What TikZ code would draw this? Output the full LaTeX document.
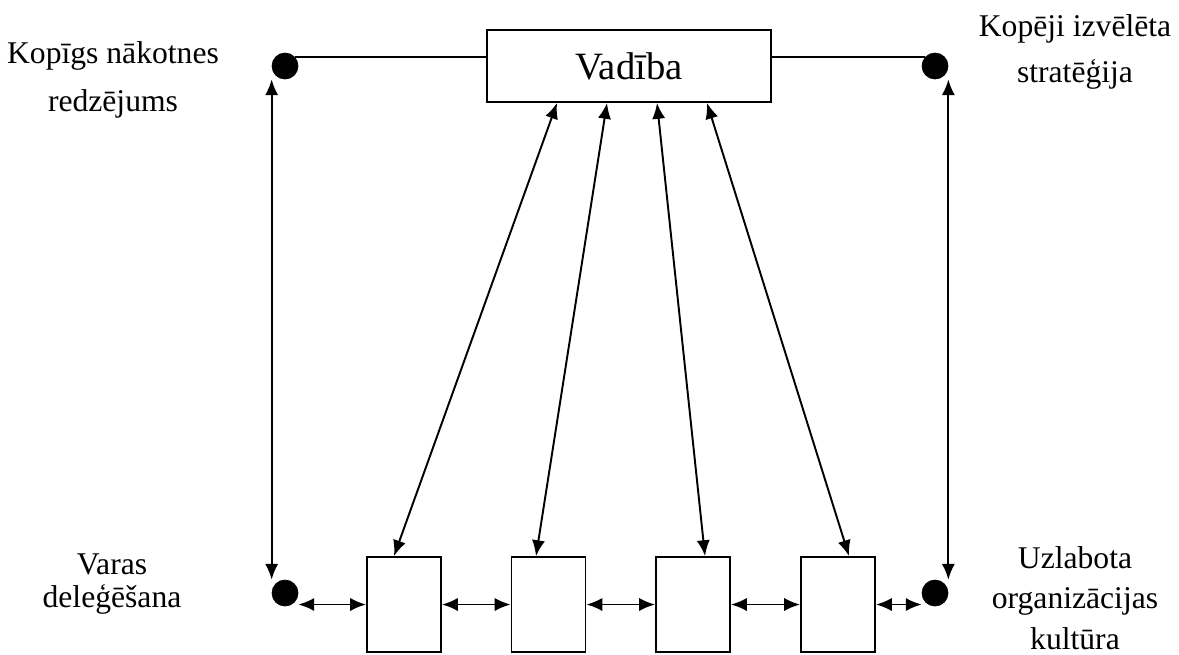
\documentclass[tikz,border=0pt]{standalone}
\usepackage{fontspec}
\setmainfont{Liberation Serif}
\usetikzlibrary{calc,arrows.meta}
\tikzset{
    block/.style = {draw, rectangle, line width=1.1pt,
        minimum height=1.9cm,
        minimum width=1.48cm},
    topblock/.style = {draw, rectangle, line width=1.1pt,
        minimum height=1.44cm,
        minimum width=5.68cm,
        font=\fontsize{22}{26}\selectfont},
    dot/.style = {draw, circle, fill=black, inner sep=0pt, minimum size=0.52cm},
    arrow/.style = {draw, line width=1.1pt, {Latex[length=9pt,width=7.5pt]}-{Latex[length=9pt,width=7.5pt]}},
    lbl/.style = {align=center, font=\fontsize{18}{21}\selectfont}
}

\begin{document}
\begin{tikzpicture}[x=0.02cm, y=-0.02cm]
    \useasboundingbox (0,0) rectangle (1179,654);
    \node[topblock] (vad) at (629,66) {Vadība};
    \node[dot] (kl) at (285,66) {};
    \node[dot] (kr) at (935,66) {};
    \node[dot] (ka) at (285,593) {};
    \node[dot] (ar) at (935,593) {};
    \node[block] (b1) at (404,604.5) {};
    \node[block] (b2) at (548.5,604.5) {};
    \node[block] (b3) at (693,604.5) {};
    \node[block] (b4) at (838,604.5) {};
    \node[lbl] (vizija) at (113,80) {Kopīgs nākotnes\\[6pt]redzējums};
    \node[lbl] (strat) at (1075,52) {Kopēji izvēlēta\\[5pt]stratēģija};
    \node[lbl] (varas) at (112,584) {Varas\\[-2pt]deleģēšana};
    \node[lbl, inner sep=1pt] (kult) at (1075,598) {Uzlabota\\[2pt]organizācijas\\[2pt]kultūra};
    % top links
    \draw [line width=1.1pt] (kl.40) -- (kl.40 -| vad.west);
    \draw [line width=1.1pt] (kr.140) -- (kr.140 -| vad.east);
    \draw [arrow] (kl.west |- kl.south) -- (ka.west |- ka.north);
    \draw [arrow] (kr.east |- kr.south) -- (ar.east |- ar.north);
    % bottom row
    \draw [arrow] (b1.west -| ka.east) -- (b1.west);
    \draw [arrow] (b1) -- (b2);
    \draw [arrow] (b2) -- (b3);
    \draw [arrow] (b3) -- (b4);
    \draw [arrow] (b4.east) -- (b4.east -| ar.west);
    % from Vadiba
    \draw [arrow] ($(vad.south)+(-72,0)$) -- ($(b1.north)+(-10,0)$);
    \draw [arrow] ($(vad.south)+(-22,0)$) -- ($(b2.north)+(-12.5,0)$);
    \draw [arrow] ($(vad.south)+(28,0)$) -- ($(b3.north)+(12,0)$);
    \draw [arrow] ($(vad.south)+(78,0)$) -- ($(b4.north)+(11,0)$);
\end{tikzpicture}
\end{document}
